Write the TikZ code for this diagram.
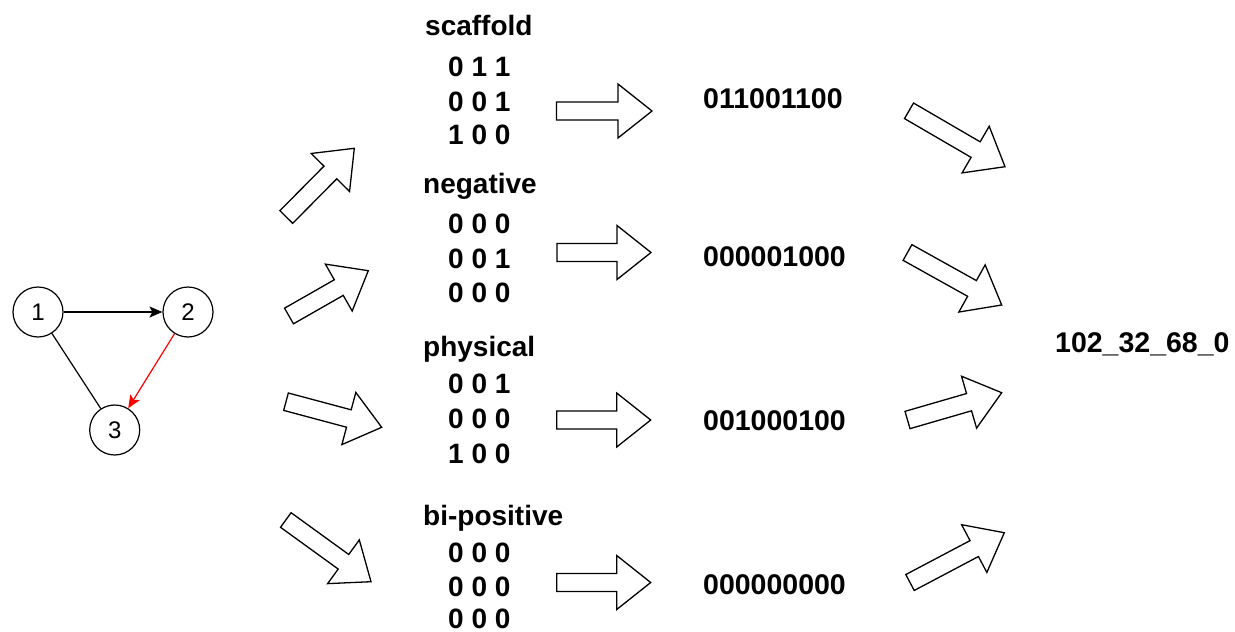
\documentclass[tikz,border=0pt]{standalone}
\usepackage{fontspec}
\setmainfont{Liberation Sans}
\usetikzlibrary{calc,arrows.meta}

\tikzset{
  vertex/.style={circle, draw, line width=1.2pt, minimum size=50pt, inner sep=0pt,
                 font=\fontsize{24}{28}\selectfont},
  edge/.style={line width=1.2pt, -{Stealth[length=13pt,width=11pt,inset=3pt]}},
  plainedge/.style={line width=1.2pt},
  title/.style={anchor=base west, inner sep=0pt, font=\fontsize{28}{32}\selectfont\bfseries},
  row/.style={anchor=base west, inner sep=0pt, font=\fontsize{28}{32}\selectfont\bfseries},
  code/.style={anchor=base west, inner sep=0pt, font=\fontsize{28.5}{32}\selectfont\bfseries},
  % hollow block arrow from the start point to the tip
  blockarrow/.style={draw, line width=1.3pt, line join=miter, fill=white,
    to path={
      ($(\tikztostart)!9pt!90:(\tikztotarget)$)
      -- ($(\tikztotarget)!34pt!(\tikztostart)!9pt!90:(\tikztotarget)$)
      -- ($(\tikztotarget)!34pt!(\tikztostart)!27pt!90:(\tikztotarget)$)
      -- (\tikztotarget)
      -- ($(\tikztotarget)!34pt!(\tikztostart)!27pt!-90:(\tikztotarget)$)
      -- ($(\tikztotarget)!34pt!(\tikztostart)!9pt!-90:(\tikztotarget)$)
      -- ($(\tikztostart)!9pt!-90:(\tikztotarget)$)
      -- cycle
    }}
}

\begin{document}
\begin{tikzpicture}[x=1pt, y=-1pt]
\useasboundingbox (0,0) rectangle (1235,632);

% the small graph
\node[vertex] (v1) at (38,312) {1};
\node[vertex] (v2) at (188,312) {2};
\node[vertex] (v3) at (114.7,430) {3};
\draw[edge] (v1) -- (v2);
\draw[edge, red] (v2) -- (v3);
\draw[plainedge] (v1) -- (v3);

% adjacency matrices
\node[title] (tS) at (425,35.5) {scaffold};
\node[row] (s1) at (448,76) {0 1 1};
\node[row] (s2) at (448,111) {0 0 1};
\node[row] (s3) at (448,144) {1 0 0};

\node[title] (tN) at (423,193) {negative};
\node[row] (n1) at (448,233) {0 0 0};
\node[row] (n2) at (448,268) {0 0 1};
\node[row] (n3) at (448,302) {0 0 0};

\node[title] (tP) at (423,356) {physical};
\node[row] (p1) at (448,393) {0 0 1};
\node[row] (p2) at (448,428) {0 0 0};
\node[row] (p3) at (448,463) {1 0 0};

\node[title] (tB) at (423,525) {bi-positive};
\node[row] (b1) at (448,562) {0 0 0};
\node[row] (b2) at (448,596) {0 0 0};
\node[row] (b3) at (448,628) {0 0 0};

% flattened codes
\node[code] (cS) at (703,108.5) {011001100};
\node[code] (cN) at (703,266) {000001000};
\node[code] (cP) at (703,430) {001000100};
\node[code] (cB) at (703,594) {000000000};

\node[code] (res) at (1055,352) {102\_32\_68\_0};

% block arrow end points
\coordinate (a1s) at (286.3,217);   \coordinate (a1t) at (354.3,148.3);
\coordinate (a2s) at (289,316);     \coordinate (a2t) at (368.3,270.7);
\coordinate (a3s) at (286,401.7);   \coordinate (a3t) at (381.7,427.3);
\coordinate (a4s) at (285.8,520);   \coordinate (a4t) at (371,581.7);

\coordinate (h1s) at (556.5,111);   \coordinate (h1t) at (652,111);
\coordinate (h2s) at (557,252.5);   \coordinate (h2t) at (651,252.5);
\coordinate (h3s) at (556.7,420);   \coordinate (h3t) at (650.7,420);
\coordinate (h4s) at (556.7,582.5); \coordinate (h4t) at (650.7,582.5);

\coordinate (r1s) at (909,110.8);   \coordinate (r1t) at (1005,166.7);
\coordinate (r2s) at (907.5,252.5); \coordinate (r2t) at (1001.7,305);
\coordinate (r3s) at (907.5,420);   \coordinate (r3t) at (1001.7,392.7);
\coordinate (r4s) at (910,582.5);   \coordinate (r4t) at (1004.3,532.7);

\foreach \a in {a1,a2,a3,a4,h1,h2,h3,h4,r1,r2,r3,r4}
  \draw[blockarrow] (\a s) to (\a t);
\end{tikzpicture}
\end{document}
